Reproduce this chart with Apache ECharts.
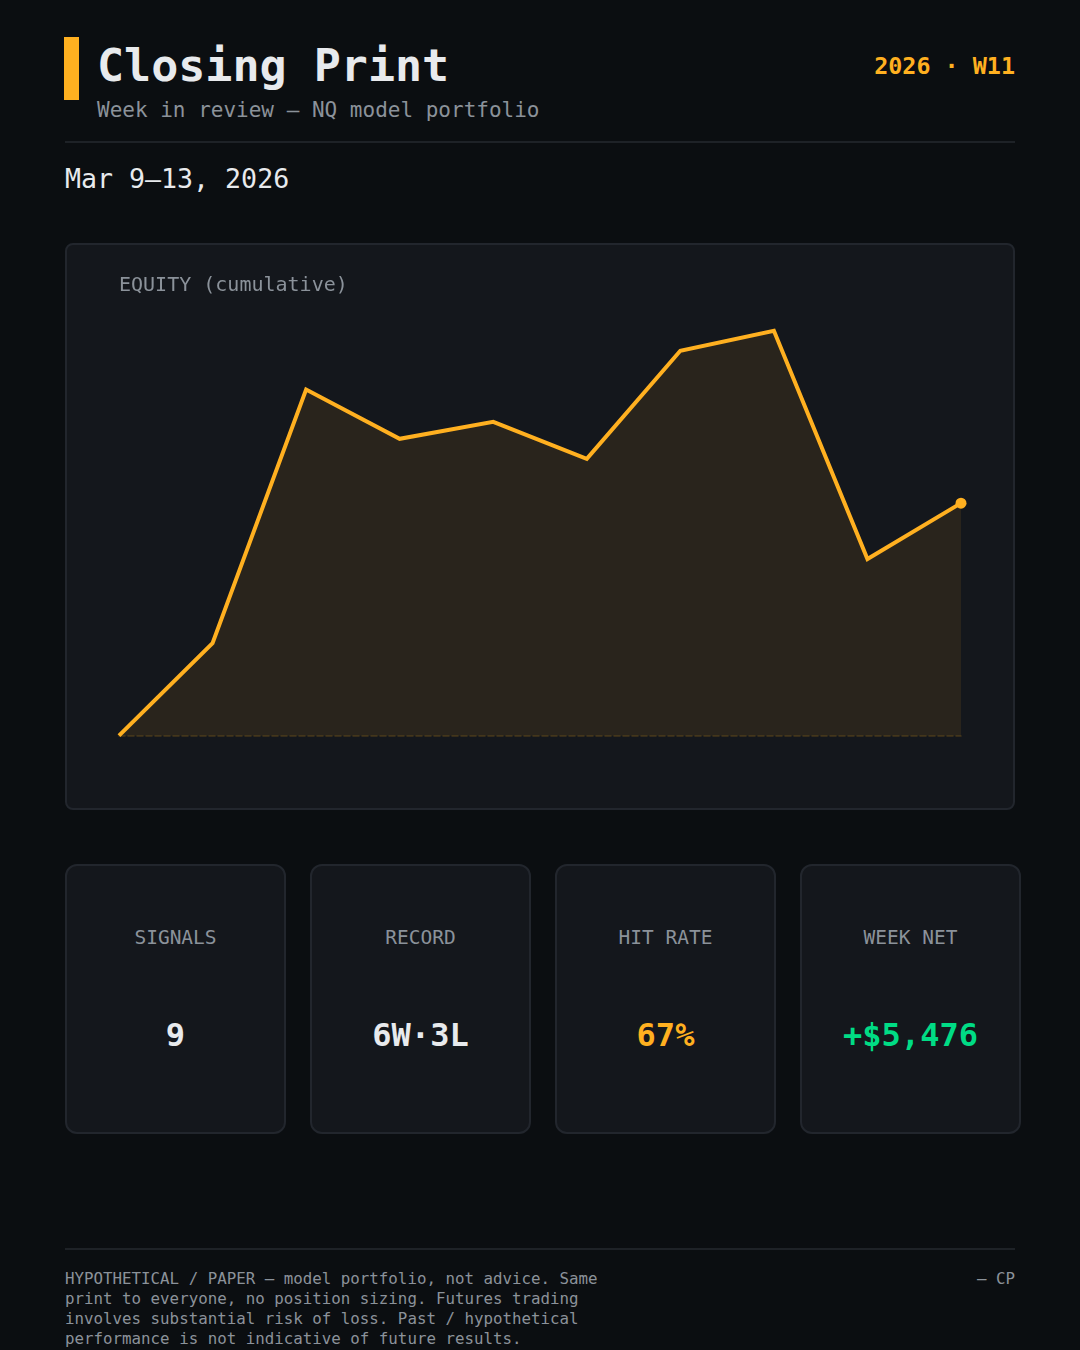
<!DOCTYPE html>
<html>
<head>
<meta charset="utf-8">
<script src="https://cdn.jsdelivr.net/npm/echarts@6/dist/echarts.min.js"></script>
<style>
  html, body { margin:0; padding:0; }
  body { width:1080px; height:1350px; background:#0b0e11; position:relative; overflow:hidden;
         font-family:"DejaVu Sans Mono", monospace; }
  .abs { position:absolute; white-space:nowrap; }
  .bar { left:64px; top:37px; width:15px; height:63px; background:#ffb020; }
  .title { left:97px; top:42.7px; font-size:45px; line-height:45px; font-weight:bold; color:#e8eaed; }
  .sub { left:97px; top:100.2px; font-size:21px; line-height:21px; color:#8b929a; }
  .week { right:65px; top:54.6px; font-size:23.4px; line-height:23.4px; font-weight:bold; color:#ffb020; }
  .rule { left:65px; width:950px; height:2px; background:#1e2227; }
  .date { left:65px; top:166.3px; font-size:26.6px; line-height:26.6px; color:#e8eaed; }
  .panel { position:absolute; background:#14171c; border:2px solid #22262d; box-sizing:border-box; }
  #chart { position:absolute; left:65px; top:243px; width:950px; height:567px; }
  .eq { left:119px; top:273.7px; font-size:20px; line-height:20px; color:#8b929a; }
  .lab { font-size:19.5px; line-height:19.5px; color:#8b929a; text-align:center; }
  .val { font-size:32px; line-height:32px; font-weight:bold; text-align:center; }
  .foot { left:65px; top:1268.5px; font-size:15.8px; line-height:20.3px; color:#8b929a; white-space:nowrap; }
  .cp { right:65px; top:1268.5px; font-size:15.8px; line-height:20.3px; color:#8b929a; }
</style>
</head>
<body>
<div class="abs bar"></div>
<div class="abs title">Closing Print</div>
<div class="abs sub">Week in review — NQ model portfolio</div>
<div class="abs week">2026 · W11</div>
<div class="abs rule" style="top:141px"></div>
<div class="abs date">Mar 9–13, 2026</div>

<div class="panel" style="left:65px;top:243px;width:950px;height:567px;border-radius:8px"></div>
<div id="chart"></div>
<div class="abs eq">EQUITY (cumulative)</div>

<div id="stats"></div>

<div class="abs rule" style="top:1248px"></div>
<div class="abs foot">HYPOTHETICAL / PAPER — model portfolio, not advice. Same<br>print to everyone, no position sizing. Futures trading<br>involves substantial risk of loss. Past / hypothetical<br>performance is not indicative of future results.</div>
<div class="abs cp">— CP</div>

<script>
// ---- data ----
const points = ['start', 'S1', 'S2', 'S3', 'S4', 'S5', 'S6', 'S7', 'S8', 'S9'];
const equity = [0, 2180, 8150, 6990, 7390, 6520, 9065, 9535, 4160, 5476];
const statLabels = ['SIGNALS', 'RECORD', 'HIT RATE', 'WEEK NET'];
const statValues = ['9', '6W·3L', '67%', '+$5,476'];
const statColors = ['#e8eaed', '#e8eaed', '#ffb020', '#00dc85'];

// ---- stat cards ----
const stats = document.getElementById('stats');
statLabels.forEach((l, i) => {
  const x = 65 + i * 245;
  const card = document.createElement('div');
  card.className = 'panel';
  card.style.cssText = `left:${x}px;top:864px;width:221px;height:270px;border-radius:12px`;
  stats.appendChild(card);
  const lab = document.createElement('div');
  lab.className = 'abs lab';
  lab.style.cssText = `left:${x}px;width:221px;top:928px`;
  lab.textContent = l;
  stats.appendChild(lab);
  const v = document.createElement('div');
  v.className = 'abs val';
  v.style.cssText = `left:${x}px;width:221px;top:1018.6px;color:${statColors[i]}`;
  v.textContent = statValues[i];
  stats.appendChild(v);
});

// ---- chart ----
const chart = echarts.init(document.getElementById('chart'), null, { renderer: 'canvas' });
const seriesData = equity.map((v, i) => i === equity.length - 1
  ? { value: v, symbol: 'circle', symbolSize: 11 }
  : { value: v, symbol: 'none' });
chart.setOption({
  animation: false,
  backgroundColor: 'transparent',
  grid: { left: 54, right: 54, top: 68, bottom: 74.3 },
  xAxis: {
    type: 'category', data: points, boundaryGap: false,
    axisLine: { show: true, lineStyle: { color: 'rgba(255,176,32,0.2)', type: 'dashed', width: 1.5 } },
    axisTick: { show: false }, axisLabel: { show: false }, splitLine: { show: false }
  },
  yAxis: {
    type: 'value', min: 0, max: 10000,
    axisLine: { show: false }, axisTick: { show: false }, axisLabel: { show: false }, splitLine: { show: false }
  },
  series: [{
    type: 'line', data: seriesData, showSymbol: true,
    lineStyle: { color: '#ffb020', width: 4, join: 'miter' },
    itemStyle: { color: '#ffb020' },
    areaStyle: { color: 'rgba(255,176,32,0.13)' }
  }]
});
</script>
</body>
</html>
